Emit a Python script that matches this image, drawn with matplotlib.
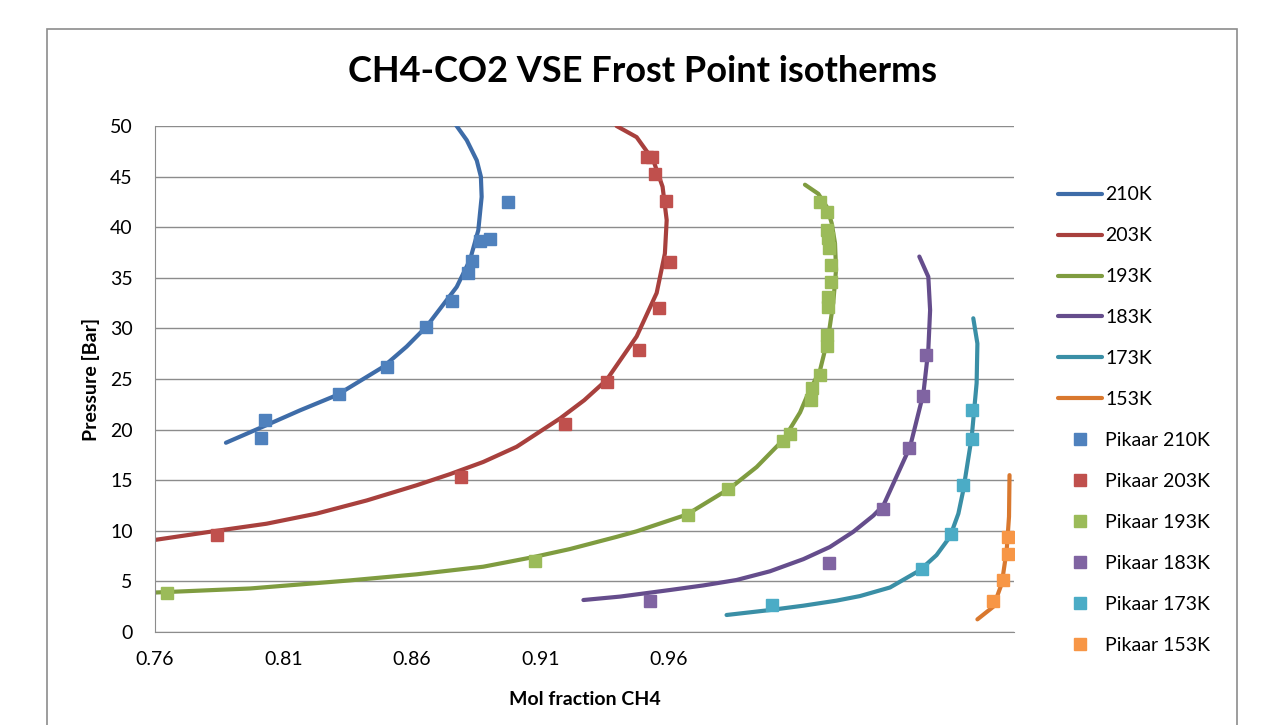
import matplotlib
matplotlib.use("Agg")
import matplotlib.pyplot as plt
from matplotlib.patches import Rectangle

plt.rcParams["font.family"] = ["Lato", "DejaVu Sans"]

# isotherm curves (mol fraction, pressure)
x210 = [0.7876, 0.8021, 0.8164, 0.8307, 0.8488, 0.8579, 0.8657, 0.8774, 0.8826, 0.8858, 0.8871, 0.8868,
        0.8852, 0.8813, 0.8771]
p210 = [18.7, 20.3, 21.9, 23.4, 26.2, 28.2, 30.2, 34.1, 36.8, 39.7, 43.0, 45.0,
        46.6, 48.6, 50.1]

x203 = [0.7600, 0.7840, 0.8034, 0.8229, 0.8424, 0.8618, 0.8748, 0.8877, 0.9007, 0.9176, 0.9270, 0.9357,
        0.9474, 0.9552, 0.9584, 0.9591, 0.9575, 0.9539, 0.9474, 0.9396]
p203 = [9.1, 10.0, 10.7, 11.7, 13.0, 14.5, 15.6, 16.8, 18.3, 21.1, 22.9, 24.9,
        29.2, 33.5, 37.4, 40.7, 44.0, 46.6, 48.9, 50.0]

x193 = [0.7600, 0.7970, 0.8359, 0.8618, 0.8877, 0.9072, 0.9215, 0.9396, 0.9474, 0.9669, 0.9837, 0.9941,
        1.0045, 1.0110, 1.0136, 1.0188, 1.0220, 1.0239, 1.0250, 1.0246, 1.0233, 1.0214, 1.0181, 1.0129]
p193 = [3.9, 4.3, 5.1, 5.7, 6.45, 7.4, 8.2, 9.4, 9.95, 11.6, 14.2, 16.3,
        19.0, 21.7, 23.25, 25.9, 29.2, 32.5, 35.8, 38.4, 40.4, 42.0, 43.3, 44.2]

x183 = [0.9267, 0.9410, 0.9604, 0.9733, 0.9863, 0.9993, 1.0123, 1.0226, 1.0317, 1.0395, 1.0434, 1.0538,
        1.0590, 1.0609, 1.0616, 1.0609, 1.0574]
p183 = [3.16, 3.5, 4.15, 4.6, 5.14, 6.0, 7.2, 8.4, 9.9, 11.5, 12.5, 18.3,
        23.6, 27.9, 31.8, 35.1, 37.1]

x173 = [0.9824, 0.9993, 1.0123, 1.0252, 1.0343, 1.0460, 1.0576, 1.0641, 1.0693, 1.0726, 1.0745, 1.0778,
        1.0797, 1.0800, 1.0784]
p173 = [1.68, 2.17, 2.6, 3.1, 3.55, 4.4, 6.1, 7.6, 9.4, 11.7, 14.0, 19.3,
        24.6, 28.5, 31.0]

x153 = [1.0800, 1.0862, 1.0895, 1.0914, 1.0923, 1.0925]
p153 = [1.25, 2.5, 4.8, 8.1, 11.4, 15.5]

# Pikaar measurements
px210 = [0.8028, 0.8011, 0.8316, 0.8503, 0.8654, 0.8757, 0.8819, 0.8832, 0.8865, 0.8904, 0.8975]
pp210 = [20.95, 19.14, 23.5, 26.15, 30.1, 32.7, 35.5, 36.7, 38.6, 38.8, 42.5]

px203 = [0.7840, 0.8789, 0.9195, 0.9357, 0.9485, 0.9562, 0.9604, 0.9588, 0.9546, 0.9515, 0.9535]
pp203 = [9.58, 15.35, 20.6, 24.7, 27.9, 32.0, 36.6, 42.6, 45.3, 46.9, 46.9]

px193 = [0.7645, 0.9079, 0.9675, 0.9831, 1.0045, 1.0071, 1.0151, 1.0155, 1.0188, 1.0216, 1.0214,
         1.0220, 1.0220, 1.0229, 1.0229, 1.0224, 1.0220, 1.0216, 1.0216, 1.0188]
pp193 = [3.9, 7.0, 11.6, 14.1, 18.9, 19.6, 22.9, 24.1, 25.4, 28.3, 29.3,
         32.1, 33.1, 34.6, 36.3, 37.9, 38.9, 39.7, 41.5, 42.5]

px183 = [0.9526, 1.0224, 1.0434, 1.0535, 1.0587, 1.0600]
pp183 = [3.06, 6.8, 12.2, 18.2, 23.35, 27.4]

px173 = [1.0000, 1.0583, 1.0696, 1.0745, 1.0780, 1.0780]
pp173 = [2.67, 6.2, 9.65, 14.5, 19.1, 21.9]

px153 = [1.0860, 1.0900, 1.0920, 1.0920]
pp153 = [3.06, 5.1, 7.7, 9.4]

curves = [(x210, p210, "210K", "#3E6CA8"), (x203, p203, "203K", "#A8403D"),
          (x193, p193, "193K", "#7F9C40"), (x183, p183, "183K", "#654D8C"),
          (x173, p173, "173K", "#3A8FA6"), (x153, p153, "153K", "#D9782E")]
points = [(px210, pp210, "Pikaar 210K", "#4F81BD"), (px203, pp203, "Pikaar 203K", "#C0504D"),
          (px193, pp193, "Pikaar 193K", "#9BBB59"), (px183, pp183, "Pikaar 183K", "#8064A2"),
          (px173, pp173, "Pikaar 173K", "#4BACC6"), (px153, pp153, "Pikaar 153K", "#F79646")]

fig = plt.figure(figsize=(12.68, 7.25), dpi=100)
ax = fig.add_axes([155 / 1268, 1 - 632 / 725, 859 / 1268, 506 / 725])

for xs, ps, name, col in curves:
    ax.plot(xs, ps, color=col, lw=3, label=name, solid_capstyle="round",
            solid_joinstyle="round", zorder=2)
for xs, ps, name, col in points:
    ax.plot(xs, ps, ls="none", marker="s", ms=9, color=col, mec=col, label=name, zorder=3)

ax.set_xlim(0.76, 0.76 + 859 / 2570)
ax.set_ylim(0, 50)
ax.set_xticks([0.76, 0.81, 0.86, 0.91, 0.96])
ax.set_xticklabels(["0.76", "0.81", "0.86", "0.91", "0.96"])
ax.set_yticks(range(0, 51, 5))
ax.tick_params(length=0, labelsize=14)
ax.tick_params(axis="y", pad=16)
ax.tick_params(axis="x", pad=14)
ax.grid(axis="y", color="#8C8C8C", lw=1)
ax.set_axisbelow(True)
for s in ["top", "right"]:
    ax.spines[s].set_visible(False)
for s in ["left", "bottom"]:
    ax.spines[s].set_color("#8C8C8C")

ax.set_xlabel("Mol fraction CH4", fontsize=14, fontweight="bold", labelpad=16)
ax.set_ylabel("Pressure [Bar]", fontsize=14, fontweight="bold", labelpad=7)
fig.text(0.507, 1 - 72 / 725, "CH4-CO2 VSE Frost Point isotherms", ha="center", va="center",
         fontsize=26, fontweight="bold")

fig.legend(loc="upper left", bbox_to_anchor=(1040 / 1268, 1 - 169 / 725), frameon=False,
           fontsize=14, labelspacing=1.23, handlelength=2.3, handletextpad=0.15)

fig.patches.append(Rectangle((47 / 1268, -0.05), (1237 - 47) / 1268, 1.05 - 29 / 725,
                             transform=fig.transFigure, fill=False, ec="#8C8C8C", lw=1.2))

fig.savefig("out.png", dpi=100)
